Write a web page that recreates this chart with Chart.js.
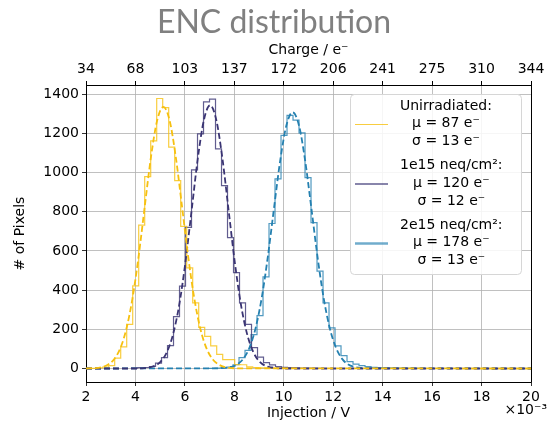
<!DOCTYPE html>
<html>
<head>
<meta charset="utf-8">
<script src="https://cdn.jsdelivr.net/npm/chart.js@4.4.1/dist/chart.umd.min.js"></script>
<style>
  html, body { margin: 0; padding: 0; background: #fff; }
  canvas { display: block; }
</style>
</head>
<body>
<canvas id="enc" width="549" height="426"></canvas>
<script>
// axis ticks
const xTicks = [2, 4, 6, 8, 10, 12, 14, 16, 18, 20];
const chargeLabels = ['34', '68', '103', '137', '172', '206', '241', '275', '310', '344'];
const yTicks = [0, 200, 400, 600, 800, 1000, 1200, 1400];

// histogram bins (injection in 1e-3 V)
const binWidth = 0.2427;

const unirrStart = 2.190;
const unirrCounts = [1, 3, 7, 15, 53, 110, 225, 422, 732, 979, 1162, 1378, 1332, 1130, 959, 725,
    514, 335, 210, 164, 115, 72, 45, 45, 20, 19, 8, 5, 3, 3, 2, 2, 1, 1];

const neq1Start = 3.841;
const neq1Counts = [2, 4, 5, 10, 27, 55, 117, 265, 420, 720, 1014, 1198, 1361, 1375, 1121, 933,
    668, 489, 335, 225, 106, 58, 30, 18, 10, 6, 4, 3, 2, 2, 1, 1];

const neq2Start = 6.976;
const neq2Counts = [1, 2, 4, 7, 19, 55, 92, 173, 270, 468, 740, 968, 1190, 1292, 1268, 1203, 974,
    745, 497, 335, 207, 115, 66, 35, 22, 15, 9, 6, 4, 3, 3, 2, 2, 1, 1];

// gaussian fits (dashed)
const unirrFitX = [2.0, 2.13, 2.38, 2.63, 2.88, 3.13, 3.38, 3.63, 3.88, 4.13, 4.38, 4.63, 4.88, 5.13,
    5.38, 5.63, 5.88, 6.13, 6.38, 6.63, 6.88, 7.13, 7.38, 7.63, 7.88, 8.13, 20];
const unirrFitY = [0, 1, 2, 7, 19, 46, 101, 200, 358, 574, 831, 1081, 1267, 1335,
    1267, 1081, 831, 574, 358, 200, 101, 46, 19, 7, 2, 1, 0];

const neq1FitX = [2, 4.02, 4.27, 4.52, 4.77, 5.02, 5.27, 5.52, 5.77, 6.02, 6.27, 6.52, 6.77, 7.02,
    7.27, 7.52, 7.77, 8.02, 8.27, 8.52, 8.77, 9.02, 9.27, 9.52, 9.77, 10.02, 20];
const neq1FitY = [0, 0, 1, 5, 13, 35, 83, 174, 324, 541, 805, 1070, 1269, 1343,
    1269, 1070, 805, 541, 324, 174, 83, 35, 13, 5, 1, 0, 0];

const neq2FitX = [2, 7.36, 7.61, 7.86, 8.11, 8.36, 8.61, 8.86, 9.11, 9.36, 9.61, 9.86, 10.11, 10.36,
    10.61, 10.86, 11.11, 11.36, 11.61, 11.86, 12.11, 12.36, 12.61, 12.86, 13.11, 13.36, 20];
const neq2FitY = [0, 1, 3, 8, 20, 49, 106, 206, 362, 575, 824, 1065, 1243, 1308,
    1243, 1065, 824, 575, 362, 206, 106, 49, 20, 8, 3, 1, 0];

// legend text
const legendLines = [
    ['Unirradiated:', 'μ = 87 e⁻', 'σ = 13 e⁻'],
    ['1e15 neq/cm²:', 'μ = 120 e⁻', 'σ = 12 e⁻'],
    ['2e15 neq/cm²:', 'μ = 178 e⁻', 'σ = 13 e⁻']
];

const yellow = 'rgb(246, 192, 16)';
const purple = 'rgb(58, 52, 115)';
const blue = 'rgb(36, 128, 176)';
const yellowHist = 'rgba(246, 192, 16, 0.8)';
const purpleHist = 'rgba(58, 52, 115, 0.8)';
const blueHist = 'rgba(36, 128, 176, 0.8)';


function histPoints(start, counts) {
    const pts = [{ x: start, y: 0 }];
    counts.forEach((c, i) => pts.push({ x: start + i * binWidth, y: c }));
    pts.push({ x: start + counts.length * binWidth, y: 0 });
    return pts;
}

function fitPoints(xs, ys) {
    return xs.map((x, i) => ({ x: x, y: ys[i] }));
}

function histSet(label, pts, color) {
    return {
        label: label,
        data: pts,
        borderColor: color,
        borderWidth: 1.2,
        stepped: true,
        pointRadius: 0,
        fill: false
    };
}

function fitSet(pts, color) {
    return {
        label: 'fit',
        data: pts,
        borderColor: color,
        borderWidth: 1.8,
        borderDash: [6, 3],
        pointRadius: 0,
        fill: false,
        cubicInterpolationMode: 'monotone'
    };
}

const font14 = { family: 'DejaVu Sans', size: 14 };

// title, right spine, exponent, legend
const decor = {
    id: 'decor',
    beforeDraw(chart) {
        const ctx = chart.ctx;
        ctx.save();
        ctx.fillStyle = '#fff';
        ctx.fillRect(0, 0, chart.width, chart.height);
        ctx.restore();
    },
    afterDraw(chart) {
        const ctx = chart.ctx;
        const a = chart.chartArea;
        ctx.save();

        ctx.fillStyle = '#808080';
        ctx.font = '32px Lato';
        ctx.textAlign = 'center';
        ctx.textBaseline = 'alphabetic';
        ctx.fillText('ENC distribution', 274, 33);

        ctx.strokeStyle = '#000';
        ctx.lineWidth = 1;
        ctx.beginPath();
        ctx.moveTo(a.right + 0.5, a.top);
        ctx.lineTo(a.right + 0.5, a.bottom);
        ctx.stroke();

        ctx.fillStyle = '#000';
        ctx.font = '14px "DejaVu Sans"';
        ctx.textAlign = 'right';
        ctx.textBaseline = 'middle';
        ctx.fillText('×10⁻³', 547, 410);

        // legend box
        ctx.beginPath();
        ctx.roundRect(350.5, 94.5, 171, 180, 4);
        ctx.fillStyle = 'rgba(255,255,255,0.85)';
        ctx.fill();
        ctx.strokeStyle = '#d6d6d6';
        ctx.stroke();

        const colors = [yellowHist, purpleHist, 'rgba(36, 128, 176, 0.65)'];
        const widths = [1.2, 1.5, 2.4];
        ctx.textAlign = 'center';
        ctx.textBaseline = 'middle';
        legendLines.forEach((lines, k) => {
            const y0 = 106 + k * 59.5;
            ctx.strokeStyle = colors[k];
            ctx.lineWidth = widths[k];
            ctx.beginPath();
            ctx.moveTo(355, y0 + 18.5);
            ctx.lineTo(388, y0 + 18.5);
            ctx.stroke();
            let w = 0;
            lines.forEach(t => { w = Math.max(w, ctx.measureText(t).width); });
            ctx.fillStyle = '#000';
            lines.forEach((t, j) => ctx.fillText(t, 400 + w / 2, y0 + j * 17.8));
        });
        ctx.restore();
    }
};

const encChart = new Chart(document.getElementById('enc'), {
    type: 'line',
    data: {
        datasets: [
            fitSet(fitPoints(unirrFitX, unirrFitY), yellow),
            fitSet(fitPoints(neq1FitX, neq1FitY), purple),
            fitSet(fitPoints(neq2FitX, neq2FitY), blue),
            histSet('Unirradiated', histPoints(unirrStart, unirrCounts), yellowHist),
            histSet('1e15 neq/cm²', histPoints(neq1Start, neq1Counts), purpleHist),
            histSet('2e15 neq/cm²', histPoints(neq2Start, neq2Counts), blueHist)
        ]
    },
    options: {
        responsive: false,
        animation: false,
        layout: { padding: { top: 42, right: 18, bottom: 4, left: 0 } },
        plugins: {
            legend: { display: false },
            tooltip: { enabled: false }
        },
        scales: {
            x: {
                type: 'linear',
                position: 'bottom',
                min: 2,
                max: 20,
                afterBuildTicks: s => { s.ticks = xTicks.map(v => ({ value: v })); },
                afterFit: s => { s.height = 40; },
                ticks: { font: font14, color: '#000', padding: 3, maxRotation: 0, autoSkip: false, callback: v => String(v) },
                grid: { color: '#b0b0b0', lineWidth: 0.8, tickLength: 4, tickColor: '#000' },
                border: { color: '#000', width: 1 },
                title: { display: true, text: 'Injection / V', font: font14, color: '#000', padding: 0 }
            },
            xTop: {
                type: 'linear',
                position: 'top',
                min: 2,
                max: 20,
                afterBuildTicks: s => { s.ticks = xTicks.map(v => ({ value: v })); },
                afterFit: s => { s.height = 43; },
                ticks: { font: font14, color: '#000', padding: 3, maxRotation: 0, autoSkip: false, callback: (v, i) => chargeLabels[i] },
                grid: { drawOnChartArea: false, tickLength: 4, tickColor: '#000' },
                border: { color: '#000', width: 1 },
                title: { display: true, text: 'Charge / e⁻', font: font14, color: '#000', padding: 0 }
            },
            y: {
                min: -69,
                max: 1447,
                afterBuildTicks: s => { s.ticks = yTicks.map(v => ({ value: v })); },
                afterFit: s => { s.width = 86; },
                ticks: { font: font14, color: '#000', padding: 3, callback: v => String(v) },
                grid: { color: '#b0b0b0', lineWidth: 0.8, tickLength: 4, tickColor: '#000' },
                border: { color: '#000', width: 1 },
                title: { display: true, text: '# of Pixels', font: font14, color: '#000', padding: { top: 12, bottom: 0 } }
            }
        }
    },
    plugins: [decor]
});
</script>
</body>
</html>
